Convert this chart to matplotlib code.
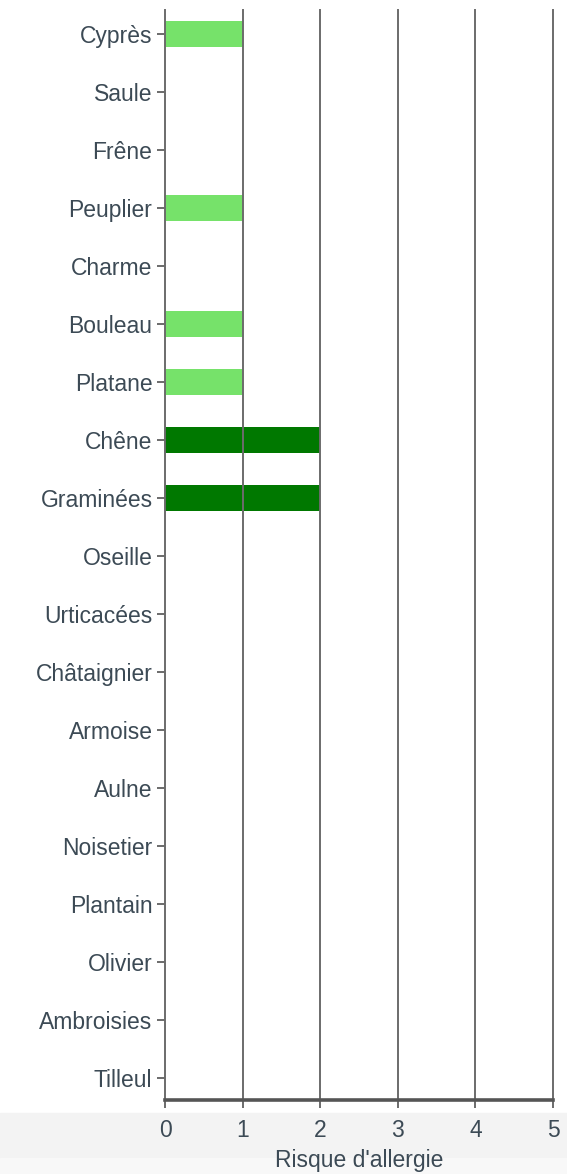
import matplotlib
matplotlib.use('Agg')
import matplotlib.pyplot as plt
from matplotlib.patches import Rectangle

# ── Data ────────────────────────────────────────────────────────────────
categories = ['Cyprès', 'Saule', 'Frêne', 'Peuplier', 'Charme', 'Bouleau',
              'Platane', 'Chêne', 'Graminées', 'Oseille', 'Urticacées',
              'Châtaignier', 'Armoise', 'Aulne', 'Noisetier', 'Plantain',
              'Olivier', 'Ambroisies', 'Tilleul']
risk = [1, 0, 0, 1, 0, 1, 1, 2, 2, 0, 0, 0, 0, 0, 0, 0, 0, 0, 0]
level_colors = {1: '#76e26a', 2: '#007800'}
x_ticks = [0, 1, 2, 3, 4, 5]

plt.rcParams['font.family'] = ['Liberation Sans', 'DejaVu Sans']
text_col = '#3c4a55'
line_col = '#6b6b6b'

fig = plt.figure(figsize=(5.67, 11.74), dpi=100)

# light gray band behind the x axis labels
fig.patches.append(Rectangle((0, 0), 1, 61 / 1174, transform=fig.transFigure,
                             color='#f3f3f3', zorder=-2))
fig.patches.append(Rectangle((0, 0), 1, 16 / 1174, transform=fig.transFigure,
                             color='#f8f8f8', zorder=-1))

ax = fig.add_axes([165 / 567, 74 / 1174, 388 / 567, 1090 / 1174])
ax.patch.set_alpha(0)

ypos = list(range(len(categories)))
colors = [level_colors.get(v, 'white') for v in risk]
ax.barh(ypos, risk, height=0.45, color=colors, zorder=1)

ax.set_xlim(0, 5)
ax.set_ylim(18.38, -0.41)
ax.set_xticks(x_ticks)
ax.set_xticklabels([str(t) for t in x_ticks])
ax.set_yticks(ypos)
ax.set_yticklabels(categories)

# vertical grid lines over the bars
for t in x_ticks[1:]:
    ax.axvline(t, color=line_col, lw=1.4, zorder=3, clip_on=False)

for s in ['top', 'right']:
    ax.spines[s].set_visible(False)
ax.spines['left'].set_color(line_col)
ax.spines['left'].set_linewidth(1.4)
ax.spines['left'].set_zorder(3)
ax.spines['bottom'].set_color('#555555')
ax.spines['bottom'].set_linewidth(2.6)
ax.spines['bottom'].set_zorder(4)

ax.tick_params(axis='y', length=6, width=1.4, color=line_col, pad=3,
               labelsize=16.5, labelcolor=text_col)
ax.tick_params(axis='x', length=6, width=1.4, color=line_col, pad=8,
               labelsize=16.5, labelcolor=text_col)

ax.set_xlabel("Risque d'allergie", fontsize=16.5, color=text_col, labelpad=5)

plt.savefig('out.png', dpi=100)
